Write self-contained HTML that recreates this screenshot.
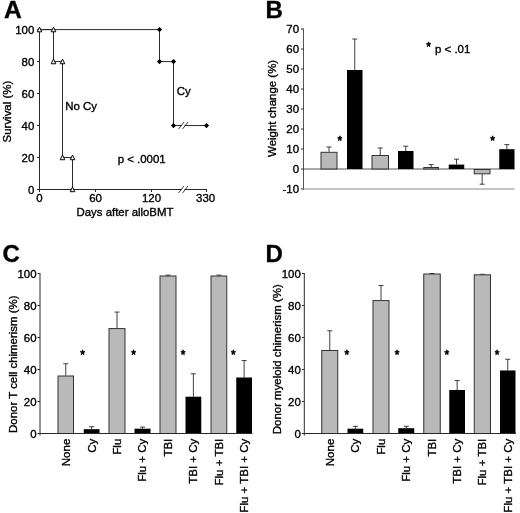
<!DOCTYPE html>
<html><head><meta charset="utf-8"><title>Figure</title>
<style>
html,body{margin:0;padding:0;background:#fff;}
body{width:520px;height:513px;overflow:hidden;}
svg{display:block;}
svg text{font-family:"Liberation Sans",Arial,sans-serif;fill:#000;stroke:#000;stroke-width:0.35px;}
</style></head><body>
<svg width="520" height="513" viewBox="0 0 520 513">
<rect width="520" height="513" fill="#fff"/>
<text x="4" y="17.8" font-size="24.6" text-anchor="start" font-weight="bold">A</text>
<line x1="39.5" y1="29.1" x2="39.5" y2="190.0" stroke="#2a2a2a" stroke-width="1.0"/>
<line x1="39.5" y1="189.5" x2="207" y2="189.5" stroke="#2a2a2a" stroke-width="1.0"/>
<line x1="37.0" y1="189.5" x2="39.5" y2="189.5" stroke="#2a2a2a" stroke-width="1.0"/>
<text x="34.3" y="193.6" font-size="11.45" text-anchor="end" font-weight="normal">0</text>
<line x1="37.0" y1="157.52" x2="39.5" y2="157.52" stroke="#2a2a2a" stroke-width="1.0"/>
<text x="34.3" y="161.62" font-size="11.45" text-anchor="end" font-weight="normal">20</text>
<line x1="37.0" y1="125.53999999999999" x2="39.5" y2="125.53999999999999" stroke="#2a2a2a" stroke-width="1.0"/>
<text x="34.3" y="129.64" font-size="11.45" text-anchor="end" font-weight="normal">40</text>
<line x1="37.0" y1="93.56" x2="39.5" y2="93.56" stroke="#2a2a2a" stroke-width="1.0"/>
<text x="34.3" y="97.66" font-size="11.45" text-anchor="end" font-weight="normal">60</text>
<line x1="37.0" y1="61.58" x2="39.5" y2="61.58" stroke="#2a2a2a" stroke-width="1.0"/>
<text x="34.3" y="65.67999999999999" font-size="11.45" text-anchor="end" font-weight="normal">80</text>
<line x1="37.0" y1="29.599999999999994" x2="39.5" y2="29.599999999999994" stroke="#2a2a2a" stroke-width="1.0"/>
<text x="34.3" y="33.699999999999996" font-size="11.45" text-anchor="end" font-weight="normal">100</text>
<line x1="39.5" y1="189.5" x2="39.5" y2="192.0" stroke="#2a2a2a" stroke-width="1.0"/>
<text x="39.5" y="202.0" font-size="11.45" text-anchor="middle" font-weight="normal">0</text>
<line x1="95.5" y1="189.5" x2="95.5" y2="192.0" stroke="#2a2a2a" stroke-width="1.0"/>
<text x="95.5" y="202.0" font-size="11.45" text-anchor="middle" font-weight="normal">60</text>
<line x1="151.5" y1="189.5" x2="151.5" y2="192.0" stroke="#2a2a2a" stroke-width="1.0"/>
<text x="151.5" y="202.0" font-size="11.45" text-anchor="middle" font-weight="normal">120</text>
<line x1="206.5" y1="189.5" x2="206.5" y2="192.0" stroke="#2a2a2a" stroke-width="1.0"/>
<text x="205.6" y="202.0" font-size="11.45" text-anchor="middle" font-weight="normal">330</text>
<text x="125" y="215.7" font-size="11.4" text-anchor="middle" font-weight="normal">Days after alloBMT</text>
<text x="11.3" y="111.6" font-size="11.45" text-anchor="middle" font-weight="normal" transform="rotate(-90 11.3 111.6)">Survival (%)</text>
<rect x="182" y="187.5" width="2.5" height="4" fill="#fff"/>
<line x1="178.5" y1="193.0" x2="184" y2="186.0" stroke="#2a2a2a" stroke-width="0.9"/>
<line x1="182.5" y1="193.0" x2="188" y2="186.0" stroke="#2a2a2a" stroke-width="0.9"/>
<polyline fill="none" stroke="#2a2a2a" stroke-width="1" points="39.5,29.599999999999994 159.5,29.599999999999994 159.5,61.58 173.5,61.58 173.5,125.53999999999999 206.5,125.53999999999999"/>
<rect x="182" y="123.53999999999999" width="2.5" height="4" fill="#fff"/>
<line x1="178.5" y1="129.04" x2="184" y2="122.03999999999999" stroke="#2a2a2a" stroke-width="0.9"/>
<line x1="182.5" y1="129.04" x2="188" y2="122.03999999999999" stroke="#2a2a2a" stroke-width="0.9"/>
<path d="M156.9,29.599999999999994 L159.5,26.999999999999993 L162.1,29.599999999999994 L159.5,32.199999999999996Z" fill="#000"/>
<path d="M156.9,61.58 L159.5,58.98 L162.1,61.58 L159.5,64.17999999999999Z" fill="#000"/>
<path d="M170.9,61.58 L173.5,58.98 L176.1,61.58 L173.5,64.17999999999999Z" fill="#000"/>
<path d="M170.9,125.53999999999999 L173.5,122.94 L176.1,125.53999999999999 L173.5,128.14Z" fill="#000"/>
<path d="M203.9,125.53999999999999 L206.5,122.94 L209.1,125.53999999999999 L206.5,128.14Z" fill="#000"/>
<polyline fill="none" stroke="#2a2a2a" stroke-width="1" points="39.5,29.599999999999994 53.5,29.599999999999994 53.5,61.58 62.5,61.58 62.5,157.52 72.5,157.52 72.5,189.5"/>
<path d="M37.2,31.799999999999994 L39.5,27.099999999999994 L41.8,31.799999999999994Z" fill="#fff" stroke="#000" stroke-width="1"/>
<path d="M51.2,31.799999999999994 L53.5,27.099999999999994 L55.8,31.799999999999994Z" fill="#fff" stroke="#000" stroke-width="1"/>
<path d="M51.2,63.78 L53.5,59.08 L55.8,63.78Z" fill="#fff" stroke="#000" stroke-width="1"/>
<path d="M60.2,63.78 L62.5,59.08 L64.8,63.78Z" fill="#fff" stroke="#000" stroke-width="1"/>
<path d="M60.2,159.72 L62.5,155.02 L64.8,159.72Z" fill="#fff" stroke="#000" stroke-width="1"/>
<path d="M70.2,159.72 L72.5,155.02 L74.8,159.72Z" fill="#fff" stroke="#000" stroke-width="1"/>
<path d="M70.2,191.7 L72.5,187.0 L74.8,191.7Z" fill="#fff" stroke="#000" stroke-width="1"/>
<text x="65.3" y="110.3" font-size="11.45" text-anchor="start" font-weight="normal">No Cy</text>
<text x="176.7" y="95" font-size="11.45" text-anchor="start" font-weight="normal">Cy</text>
<text x="117.7" y="162.8" font-size="11.45" text-anchor="start" font-weight="normal">p &lt; .0001</text>
<text x="265.6" y="18.2" font-size="24" text-anchor="start" font-weight="bold">B</text>
<line x1="303.5" y1="28.5" x2="303.5" y2="189.5" stroke="#555" stroke-width="1.0"/>
<line x1="303.5" y1="169" x2="514.5" y2="169" stroke="#555" stroke-width="1.0"/>
<line x1="303.5" y1="189" x2="514.5" y2="189" stroke="#888" stroke-width="1.0"/>
<line x1="301.0" y1="189" x2="303.5" y2="189" stroke="#2a2a2a" stroke-width="1.0"/>
<text x="299" y="193.2" font-size="11.45" text-anchor="end" font-weight="normal">-10</text>
<line x1="301.0" y1="169" x2="303.5" y2="169" stroke="#2a2a2a" stroke-width="1.0"/>
<text x="299" y="173.2" font-size="11.45" text-anchor="end" font-weight="normal">0</text>
<line x1="301.0" y1="149" x2="303.5" y2="149" stroke="#2a2a2a" stroke-width="1.0"/>
<text x="299" y="153.2" font-size="11.45" text-anchor="end" font-weight="normal">10</text>
<line x1="301.0" y1="129" x2="303.5" y2="129" stroke="#2a2a2a" stroke-width="1.0"/>
<text x="299" y="133.2" font-size="11.45" text-anchor="end" font-weight="normal">20</text>
<line x1="301.0" y1="109" x2="303.5" y2="109" stroke="#2a2a2a" stroke-width="1.0"/>
<text x="299" y="113.2" font-size="11.45" text-anchor="end" font-weight="normal">30</text>
<line x1="301.0" y1="89" x2="303.5" y2="89" stroke="#2a2a2a" stroke-width="1.0"/>
<text x="299" y="93.2" font-size="11.45" text-anchor="end" font-weight="normal">40</text>
<line x1="301.0" y1="69" x2="303.5" y2="69" stroke="#2a2a2a" stroke-width="1.0"/>
<text x="299" y="73.2" font-size="11.45" text-anchor="end" font-weight="normal">50</text>
<line x1="301.0" y1="49" x2="303.5" y2="49" stroke="#2a2a2a" stroke-width="1.0"/>
<text x="299" y="53.2" font-size="11.45" text-anchor="end" font-weight="normal">60</text>
<line x1="301.0" y1="29" x2="303.5" y2="29" stroke="#2a2a2a" stroke-width="1.0"/>
<text x="299" y="33.2" font-size="11.45" text-anchor="end" font-weight="normal">70</text>
<text x="276" y="108.4" font-size="11.45" text-anchor="middle" font-weight="normal" transform="rotate(-90 276 108.4)">Weight change (%)</text>
<line x1="329.0" y1="151.8" x2="329.0" y2="147" stroke="#2a2a2a" stroke-width="0.9"/>
<line x1="326.5" y1="147" x2="331.5" y2="147" stroke="#2a2a2a" stroke-width="0.9"/>
<rect x="321.0" y="152.3" width="16.0" height="16.69999999999999" fill="#b9b9b9" stroke="#333" stroke-width="1"/>
<line x1="354.75" y1="70.0" x2="354.75" y2="39" stroke="#2a2a2a" stroke-width="0.9"/>
<line x1="352.25" y1="39" x2="357.25" y2="39" stroke="#2a2a2a" stroke-width="0.9"/>
<rect x="347" y="70.0" width="15.5" height="99.0" fill="#000"/>
<line x1="380.25" y1="155" x2="380.25" y2="148.0" stroke="#2a2a2a" stroke-width="0.9"/>
<line x1="377.75" y1="148.0" x2="382.75" y2="148.0" stroke="#2a2a2a" stroke-width="0.9"/>
<rect x="372.0" y="155.5" width="16.5" height="13.5" fill="#b9b9b9" stroke="#333" stroke-width="1"/>
<line x1="405.75" y1="151" x2="405.75" y2="146.2" stroke="#2a2a2a" stroke-width="0.9"/>
<line x1="403.25" y1="146.2" x2="408.25" y2="146.2" stroke="#2a2a2a" stroke-width="0.9"/>
<rect x="398" y="151" width="15.5" height="18" fill="#000"/>
<line x1="431.125" y1="167" x2="431.125" y2="164.6" stroke="#2a2a2a" stroke-width="0.9"/>
<line x1="428.625" y1="164.6" x2="433.625" y2="164.6" stroke="#2a2a2a" stroke-width="0.9"/>
<rect x="423.75" y="167.5" width="14.75" height="1.5" fill="#b9b9b9" stroke="#333" stroke-width="1"/>
<line x1="456.5" y1="164.6" x2="456.5" y2="159.2" stroke="#2a2a2a" stroke-width="0.9"/>
<line x1="454.0" y1="159.2" x2="459.0" y2="159.2" stroke="#2a2a2a" stroke-width="0.9"/>
<rect x="448.75" y="164.6" width="15.5" height="4.400000000000006" fill="#000"/>
<line x1="482.125" y1="173.8" x2="482.125" y2="184.2" stroke="#2a2a2a" stroke-width="0.9"/>
<line x1="479.625" y1="184.2" x2="484.625" y2="184.2" stroke="#2a2a2a" stroke-width="0.9"/>
<rect x="474.25" y="169.5" width="15.75" height="4.300000000000011" fill="#b9b9b9" stroke="#333" stroke-width="1"/>
<line x1="506.875" y1="149.2" x2="506.875" y2="144.6" stroke="#2a2a2a" stroke-width="0.9"/>
<line x1="504.375" y1="144.6" x2="509.375" y2="144.6" stroke="#2a2a2a" stroke-width="0.9"/>
<rect x="499.25" y="149.2" width="15.25" height="19.80000000000001" fill="#000"/>
<text x="339.8" y="144.9" font-size="12" text-anchor="middle" font-weight="normal" style="stroke-width:0.6px">*</text>
<text x="492.7" y="144.9" font-size="12" text-anchor="middle" font-weight="normal" style="stroke-width:0.6px">*</text>
<text x="428.5" y="51.3" font-size="12" text-anchor="middle" font-weight="normal" style="stroke-width:0.6px">*</text>
<text x="435" y="52.5" font-size="11.45" text-anchor="start" font-weight="normal">p &lt; .01</text>
<text x="2.4" y="261.8" font-size="24" text-anchor="start" font-weight="bold">C</text>
<line x1="65.75" y1="375.5" x2="65.75" y2="363.74" stroke="#2a2a2a" stroke-width="0.9"/>
<line x1="63.25" y1="363.74" x2="68.25" y2="363.74" stroke="#2a2a2a" stroke-width="0.9"/>
<rect x="58.0" y="376.0" width="15.5" height="57.5" fill="#b9b9b9" stroke="#333" stroke-width="1"/>
<line x1="91.625" y1="429.18" x2="91.625" y2="426.78" stroke="#2a2a2a" stroke-width="0.9"/>
<line x1="89.125" y1="426.78" x2="94.125" y2="426.78" stroke="#2a2a2a" stroke-width="0.9"/>
<rect x="83.75" y="429.18" width="15.75" height="4.319999999999993" fill="#000"/>
<line x1="117.0" y1="328.06" x2="117.0" y2="312.06" stroke="#2a2a2a" stroke-width="0.9"/>
<line x1="114.5" y1="312.06" x2="119.5" y2="312.06" stroke="#2a2a2a" stroke-width="0.9"/>
<rect x="109.0" y="328.56" width="16.0" height="104.94" fill="#b9b9b9" stroke="#333" stroke-width="1"/>
<line x1="142.5" y1="428.7" x2="142.5" y2="427.1" stroke="#2a2a2a" stroke-width="0.9"/>
<line x1="140.0" y1="427.1" x2="145.0" y2="427.1" stroke="#2a2a2a" stroke-width="0.9"/>
<rect x="134.5" y="428.7" width="16.0" height="4.800000000000011" fill="#000"/>
<line x1="168.0" y1="275.5" x2="168.0" y2="275.1" stroke="#2a2a2a" stroke-width="0.9"/>
<line x1="165.5" y1="275.1" x2="170.5" y2="275.1" stroke="#2a2a2a" stroke-width="0.9"/>
<rect x="160.0" y="276.0" width="16.0" height="157.5" fill="#b9b9b9" stroke="#333" stroke-width="1"/>
<line x1="193.375" y1="396.7" x2="193.375" y2="373.82" stroke="#2a2a2a" stroke-width="0.9"/>
<line x1="190.875" y1="373.82" x2="195.875" y2="373.82" stroke="#2a2a2a" stroke-width="0.9"/>
<rect x="185.5" y="396.7" width="15.75" height="36.80000000000001" fill="#000"/>
<line x1="218.875" y1="275.5" x2="218.875" y2="275.1" stroke="#2a2a2a" stroke-width="0.9"/>
<line x1="216.375" y1="275.1" x2="221.375" y2="275.1" stroke="#2a2a2a" stroke-width="0.9"/>
<rect x="211.0" y="276.0" width="15.75" height="157.5" fill="#b9b9b9" stroke="#333" stroke-width="1"/>
<line x1="244.125" y1="377.5" x2="244.125" y2="360.53999999999996" stroke="#2a2a2a" stroke-width="0.9"/>
<line x1="241.625" y1="360.53999999999996" x2="246.625" y2="360.53999999999996" stroke="#2a2a2a" stroke-width="0.9"/>
<rect x="236.25" y="377.5" width="15.75" height="56.0" fill="#000"/>
<line x1="40" y1="273.0" x2="40" y2="435.5" stroke="#2a2a2a" stroke-width="1.0"/>
<line x1="40" y1="433.5" x2="252.5" y2="433.5" stroke="#2a2a2a" stroke-width="1.0"/>
<line x1="37.5" y1="433.5" x2="40" y2="433.5" stroke="#2a2a2a" stroke-width="1.0"/>
<text x="36.5" y="437.6" font-size="11.45" text-anchor="end" font-weight="normal">0</text>
<line x1="37.5" y1="401.5" x2="40" y2="401.5" stroke="#2a2a2a" stroke-width="1.0"/>
<text x="36.5" y="405.6" font-size="11.45" text-anchor="end" font-weight="normal">20</text>
<line x1="37.5" y1="369.5" x2="40" y2="369.5" stroke="#2a2a2a" stroke-width="1.0"/>
<text x="36.5" y="373.6" font-size="11.45" text-anchor="end" font-weight="normal">40</text>
<line x1="37.5" y1="337.5" x2="40" y2="337.5" stroke="#2a2a2a" stroke-width="1.0"/>
<text x="36.5" y="341.6" font-size="11.45" text-anchor="end" font-weight="normal">60</text>
<line x1="37.5" y1="305.5" x2="40" y2="305.5" stroke="#2a2a2a" stroke-width="1.0"/>
<text x="36.5" y="309.6" font-size="11.45" text-anchor="end" font-weight="normal">80</text>
<line x1="37.5" y1="273.5" x2="40" y2="273.5" stroke="#2a2a2a" stroke-width="1.0"/>
<text x="36.5" y="277.6" font-size="11.45" text-anchor="end" font-weight="normal">100</text>
<text x="16.7" y="364.2" font-size="11.45" text-anchor="middle" font-weight="normal" transform="rotate(-90 16.7 364.2)">Donor T cell chimerism (%)</text>
<text x="82.5" y="358.7" font-size="12" text-anchor="middle" font-weight="normal" style="stroke-width:0.6px">*</text>
<text x="133.5" y="358.7" font-size="12" text-anchor="middle" font-weight="normal" style="stroke-width:0.6px">*</text>
<text x="183" y="358.7" font-size="12" text-anchor="middle" font-weight="normal" style="stroke-width:0.6px">*</text>
<text x="233.25" y="358.7" font-size="12" text-anchor="middle" font-weight="normal" style="stroke-width:0.6px">*</text>
<text x="69.75" y="438.7" font-size="11.5" text-anchor="end" font-weight="normal" transform="rotate(-90 69.75 438.7)">None</text>
<text x="95.625" y="438.7" font-size="11.5" text-anchor="end" font-weight="normal" transform="rotate(-90 95.625 438.7)">Cy</text>
<text x="121.0" y="438.7" font-size="11.5" text-anchor="end" font-weight="normal" transform="rotate(-90 121.0 438.7)">Flu</text>
<text x="146.5" y="438.7" font-size="11.5" text-anchor="end" font-weight="normal" transform="rotate(-90 146.5 438.7)">Flu + Cy</text>
<text x="172.0" y="438.7" font-size="11.5" text-anchor="end" font-weight="normal" transform="rotate(-90 172.0 438.7)">TBI</text>
<text x="197.375" y="438.7" font-size="11.5" text-anchor="end" font-weight="normal" transform="rotate(-90 197.375 438.7)">TBI + Cy</text>
<text x="222.875" y="438.7" font-size="11.5" text-anchor="end" font-weight="normal" transform="rotate(-90 222.875 438.7)">Flu + TBI</text>
<text x="248.125" y="438.7" font-size="11.5" text-anchor="end" font-weight="normal" transform="rotate(-90 248.125 438.7)">Flu + TBI + Cy</text>
<text x="265.4" y="261.8" font-size="24" text-anchor="start" font-weight="bold">D</text>
<line x1="329.75" y1="349.98" x2="329.75" y2="330.78" stroke="#2a2a2a" stroke-width="0.9"/>
<line x1="327.25" y1="330.78" x2="332.25" y2="330.78" stroke="#2a2a2a" stroke-width="0.9"/>
<rect x="321.75" y="350.48" width="16.0" height="83.01999999999998" fill="#b9b9b9" stroke="#333" stroke-width="1"/>
<line x1="355.375" y1="428.7" x2="355.375" y2="426.3" stroke="#2a2a2a" stroke-width="0.9"/>
<line x1="352.875" y1="426.3" x2="357.875" y2="426.3" stroke="#2a2a2a" stroke-width="0.9"/>
<rect x="347.5" y="428.7" width="15.75" height="4.800000000000011" fill="#000"/>
<line x1="381.0" y1="300.05999999999995" x2="381.0" y2="285.5" stroke="#2a2a2a" stroke-width="0.9"/>
<line x1="378.5" y1="285.5" x2="383.5" y2="285.5" stroke="#2a2a2a" stroke-width="0.9"/>
<rect x="373.0" y="300.55999999999995" width="16.0" height="132.94000000000005" fill="#b9b9b9" stroke="#333" stroke-width="1"/>
<line x1="406.25" y1="428.22" x2="406.25" y2="426.3" stroke="#2a2a2a" stroke-width="0.9"/>
<line x1="403.75" y1="426.3" x2="408.75" y2="426.3" stroke="#2a2a2a" stroke-width="0.9"/>
<rect x="398.25" y="428.22" width="16.0" height="5.279999999999973" fill="#000"/>
<line x1="432.0" y1="273.5" x2="432.0" y2="273.5" stroke="#2a2a2a" stroke-width="0.9"/>
<line x1="429.5" y1="273.5" x2="434.5" y2="273.5" stroke="#2a2a2a" stroke-width="0.9"/>
<rect x="423.75" y="274.0" width="16.5" height="159.5" fill="#b9b9b9" stroke="#333" stroke-width="1"/>
<line x1="457.125" y1="389.98" x2="457.125" y2="380.53999999999996" stroke="#2a2a2a" stroke-width="0.9"/>
<line x1="454.625" y1="380.53999999999996" x2="459.625" y2="380.53999999999996" stroke="#2a2a2a" stroke-width="0.9"/>
<rect x="449.25" y="389.98" width="15.75" height="43.51999999999998" fill="#000"/>
<line x1="482.375" y1="274.29999999999995" x2="482.375" y2="274.29999999999995" stroke="#2a2a2a" stroke-width="0.9"/>
<line x1="479.875" y1="274.29999999999995" x2="484.875" y2="274.29999999999995" stroke="#2a2a2a" stroke-width="0.9"/>
<rect x="474.25" y="274.79999999999995" width="16.25" height="158.70000000000005" fill="#b9b9b9" stroke="#333" stroke-width="1"/>
<line x1="507.75" y1="370.46" x2="507.75" y2="359.26" stroke="#2a2a2a" stroke-width="0.9"/>
<line x1="505.25" y1="359.26" x2="510.25" y2="359.26" stroke="#2a2a2a" stroke-width="0.9"/>
<rect x="500" y="370.46" width="15.5" height="63.04000000000002" fill="#000"/>
<line x1="304.3" y1="273.0" x2="304.3" y2="435.5" stroke="#2a2a2a" stroke-width="1.0"/>
<line x1="304.3" y1="433.5" x2="516.0" y2="433.5" stroke="#2a2a2a" stroke-width="1.0"/>
<line x1="301.8" y1="433.5" x2="304.3" y2="433.5" stroke="#2a2a2a" stroke-width="1.0"/>
<text x="300.8" y="437.6" font-size="11.45" text-anchor="end" font-weight="normal">0</text>
<line x1="301.8" y1="401.5" x2="304.3" y2="401.5" stroke="#2a2a2a" stroke-width="1.0"/>
<text x="300.8" y="405.6" font-size="11.45" text-anchor="end" font-weight="normal">20</text>
<line x1="301.8" y1="369.5" x2="304.3" y2="369.5" stroke="#2a2a2a" stroke-width="1.0"/>
<text x="300.8" y="373.6" font-size="11.45" text-anchor="end" font-weight="normal">40</text>
<line x1="301.8" y1="337.5" x2="304.3" y2="337.5" stroke="#2a2a2a" stroke-width="1.0"/>
<text x="300.8" y="341.6" font-size="11.45" text-anchor="end" font-weight="normal">60</text>
<line x1="301.8" y1="305.5" x2="304.3" y2="305.5" stroke="#2a2a2a" stroke-width="1.0"/>
<text x="300.8" y="309.6" font-size="11.45" text-anchor="end" font-weight="normal">80</text>
<line x1="301.8" y1="273.5" x2="304.3" y2="273.5" stroke="#2a2a2a" stroke-width="1.0"/>
<text x="300.8" y="277.6" font-size="11.45" text-anchor="end" font-weight="normal">100</text>
<text x="280.6" y="359.2" font-size="11.45" text-anchor="middle" font-weight="normal" transform="rotate(-90 280.6 359.2)">Donor myeloid chimerism (%)</text>
<text x="346.75" y="358.7" font-size="12" text-anchor="middle" font-weight="normal" style="stroke-width:0.6px">*</text>
<text x="397" y="358.7" font-size="12" text-anchor="middle" font-weight="normal" style="stroke-width:0.6px">*</text>
<text x="446.75" y="358.7" font-size="12" text-anchor="middle" font-weight="normal" style="stroke-width:0.6px">*</text>
<text x="497" y="358.7" font-size="12" text-anchor="middle" font-weight="normal" style="stroke-width:0.6px">*</text>
<text x="333.75" y="438.7" font-size="11.5" text-anchor="end" font-weight="normal" transform="rotate(-90 333.75 438.7)">None</text>
<text x="359.375" y="438.7" font-size="11.5" text-anchor="end" font-weight="normal" transform="rotate(-90 359.375 438.7)">Cy</text>
<text x="385.0" y="438.7" font-size="11.5" text-anchor="end" font-weight="normal" transform="rotate(-90 385.0 438.7)">Flu</text>
<text x="410.25" y="438.7" font-size="11.5" text-anchor="end" font-weight="normal" transform="rotate(-90 410.25 438.7)">Flu + Cy</text>
<text x="436.0" y="438.7" font-size="11.5" text-anchor="end" font-weight="normal" transform="rotate(-90 436.0 438.7)">TBI</text>
<text x="461.125" y="438.7" font-size="11.5" text-anchor="end" font-weight="normal" transform="rotate(-90 461.125 438.7)">TBI + Cy</text>
<text x="486.375" y="438.7" font-size="11.5" text-anchor="end" font-weight="normal" transform="rotate(-90 486.375 438.7)">Flu + TBI</text>
<text x="511.75" y="438.7" font-size="11.5" text-anchor="end" font-weight="normal" transform="rotate(-90 511.75 438.7)">Flu + TBI + Cy</text>
</svg>
</body></html>
